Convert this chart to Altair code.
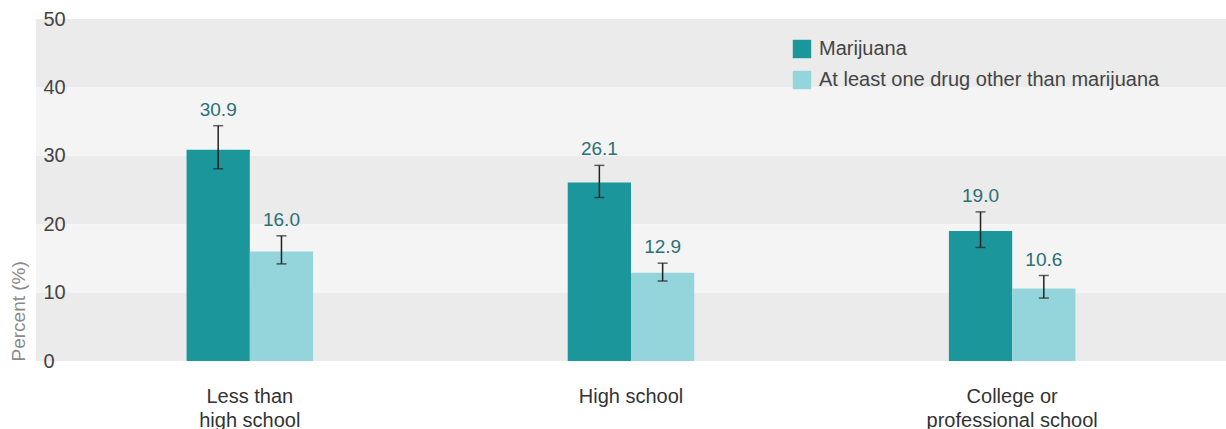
import altair as alt
import pandas as pd

categories = ["Less than|high school", "High school", "College or|professional school"]
series = ["Marijuana", "At least one drug other than marijuana"]
marijuana = [30.9, 26.1, 19.0]
other = [16.0, 12.9, 10.6]
marijuana_low = [28.1, 23.9, 16.6]
marijuana_high = [34.4, 28.6, 21.8]
other_low = [14.2, 11.7, 9.2]
other_high = [18.3, 14.3, 12.5]
y_ticks = [0, 10, 20, 30, 40, 50]
dark_band_starts = [0, 20, 40]
light_band_starts = [10, 30]

rows = []
for i, c in enumerate(categories):
    rows.append({"cat": c, "series": series[0], "value": marijuana[i],
                 "low": marijuana_low[i], "high": marijuana_high[i]})
    rows.append({"cat": c, "series": series[1], "value": other[i],
                 "low": other_low[i], "high": other_high[i]})
df = pd.DataFrame(rows)
df["label"] = df["value"].map(lambda v: f"{v:.1f}")

dark = pd.DataFrame({"y0": dark_band_starts, "y1": [b + 10 for b in dark_band_starts]})
light = pd.DataFrame({"y0": light_band_starts, "y1": [b + 10 for b in light_band_starts]})

W, H = 1190, 342
FONT = "Liberation Sans, Arial, sans-serif"

yscale = alt.Scale(domain=[0, 50], nice=False)
xscale = alt.Scale(domain=categories, paddingInner=0.668, paddingOuter=0.395)
offscale = alt.Scale(domain=series, paddingInner=0, paddingOuter=0)

yaxis = alt.Axis(values=y_ticks, title="Percent (%)", grid=False, ticks=False, zindex=2,
                 domain=False, labelAlign="left", labelPadding=-7,
                 labelFontSize=20, labelColor="#444444", labelFont=FONT,
                 titleFontSize=19, titleFontWeight="normal", titleColor="#8a8a8a",
                 titleFont=FONT, titleAnchor="start", titleX=-18,
                 titleBaseline="middle")

bg_dark = alt.Chart(dark).mark_rect(color="#ebebeb").encode(
    x=alt.value(0), x2=alt.value(W),
    y=alt.Y("y0:Q", scale=yscale, axis=yaxis), y2="y1:Q")
bg_light = alt.Chart(light).mark_rect(color="#f4f4f4").encode(
    x=alt.value(0), x2=alt.value(W),
    y=alt.Y("y0:Q", scale=yscale), y2="y1:Q")

base = alt.Chart(df).encode(
    x=alt.X("cat:N", scale=xscale, sort=categories,
            axis=alt.Axis(title=None, domain=False, ticks=False, labelAngle=0,
                          labelExpr="split(datum.label, '|')", labelFontSize=20,
                          labelColor="#333333", labelFont=FONT, labelPadding=25,
                          labelBaseline="top", labelLineHeight=24)),
    xOffset=alt.XOffset("series:N", scale=offscale, sort=series),
)

bars = base.mark_bar().encode(
    y=alt.Y("value:Q", scale=yscale),
    color=alt.Color("series:N", scale=alt.Scale(domain=series, range=["#1b979c", "#93d5db"]),
                    legend=alt.Legend(title=None, orient="none", legendX=756, legendY=20,
                                      symbolType="square", symbolSize=340, symbolStrokeWidth=0,
                                      symbolOpacity=1, labelFontSize=20, labelColor="#444444",
                                      labelFont=FONT, rowPadding=11, labelOffset=7,
                                      labelLimit=0)),
)

rules = base.mark_rule(color="#222222", strokeWidth=1.5).encode(
    y=alt.Y("low:Q", scale=yscale), y2="high:Q")
cap_hi = base.mark_tick(color="#222222", orient="horizontal", size=10, thickness=1.5).encode(
    y=alt.Y("high:Q", scale=yscale))
cap_lo = base.mark_tick(color="#222222", orient="horizontal", size=10, thickness=1.5).encode(
    y=alt.Y("low:Q", scale=yscale))
labels = base.mark_text(baseline="alphabetic", dy=-10, fontSize=19, color="#2a7075", font=FONT).encode(
    y=alt.Y("high:Q", scale=yscale), text="label:N")

chart = alt.layer(bg_dark, bg_light, bars, rules, cap_hi, cap_lo, labels).properties(
    width=W, height=H,
    padding={"left": 36, "top": 19, "right": 0, "bottom": 68},
    autosize=alt.AutoSizeParams(type="none"),
).configure_view(stroke=None)

chart.save("out.html", embed_options={"renderer": "svg", "actions": False})
